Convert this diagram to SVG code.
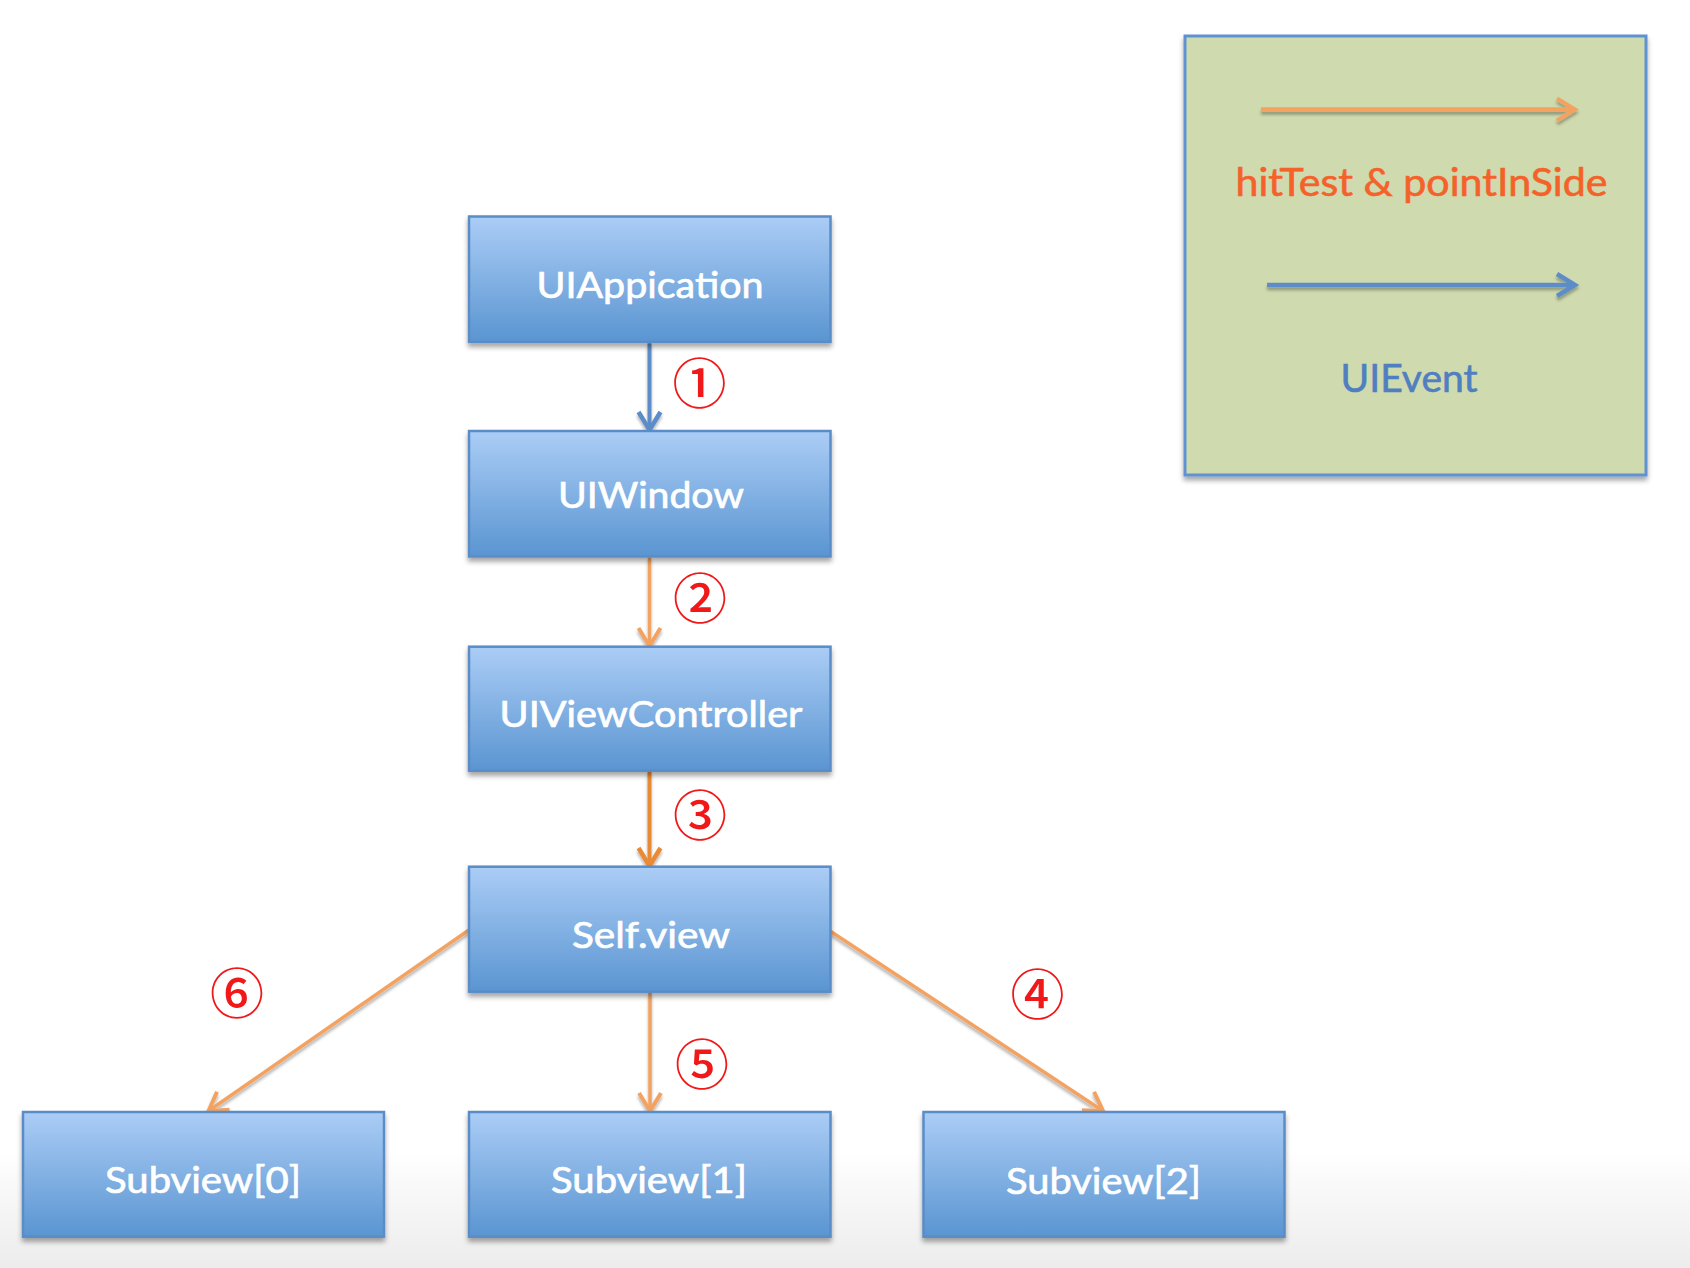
<svg xmlns="http://www.w3.org/2000/svg" width="1690" height="1268" viewBox="0 0 1690 1268">
  <defs>
    <linearGradient id="boxFill" x1="0" y1="0" x2="0" y2="1">
      <stop offset="0" stop-color="#abcdf6"/>
      <stop offset="1" stop-color="#5a95d1"/>
    </linearGradient>
    <linearGradient id="floor" x1="0" y1="0" x2="0" y2="1">
      <stop offset="0" stop-color="#ffffff"/>
      <stop offset="1" stop-color="#ececec"/>
    </linearGradient>
    <filter id="shadow" x="-10%" y="-10%" width="120%" height="130%">
      <feDropShadow dx="0" dy="4" stdDeviation="2.5" flood-color="#000" flood-opacity="0.35"/>
    </filter>
    <filter id="lineShadow" filterUnits="userSpaceOnUse" x="0" y="0" width="1690" height="1268">
      <feDropShadow dx="0" dy="3" stdDeviation="1.5" flood-color="#000" flood-opacity="0.3"/>
    </filter>
    <marker id="headOrange" markerUnits="userSpaceOnUse" markerWidth="40" markerHeight="40" viewBox="-30 -20 40 40" refX="0" refY="0" orient="auto" overflow="visible">
      <path d="M-18,-11 L0,0 L-18,11" fill="none" stroke="#f3a261" stroke-width="4" stroke-linejoin="miter"/>
    </marker>
    <marker id="headOrangeDark" markerUnits="userSpaceOnUse" markerWidth="40" markerHeight="40" viewBox="-30 -20 40 40" refX="0" refY="0" orient="auto" overflow="visible">
      <path d="M-18,-11 L0,0 L-18,11" fill="none" stroke="#e98a35" stroke-width="4.5" stroke-linejoin="miter"/>
    </marker>
    <marker id="headBlue" markerUnits="userSpaceOnUse" markerWidth="40" markerHeight="40" viewBox="-30 -20 40 40" refX="0" refY="0" orient="auto" overflow="visible">
      <path d="M-18,-11 L0,0 L-18,11" fill="none" stroke="#5b8dc8" stroke-width="4.5" stroke-linejoin="miter"/>
    </marker>
  </defs>
  <style>
    .box { fill: url(#boxFill); stroke: #5a8cc8; stroke-width: 2.5; filter: url(#shadow); }
    .label { font-family: Lato, "Liberation Sans", sans-serif; font-size: 37px; fill: #ffffff; stroke: #ffffff; stroke-width: 0.7; text-anchor: middle; }
    .num { font-family: "Noto Sans CJK JP", "DejaVu Sans", sans-serif; font-size: 54px; font-weight: 500; fill: #f01818; text-anchor: middle; }
    .conn { fill: none; stroke-linecap: butt; filter: url(#lineShadow); }
    .orange { stroke: #f3a261; stroke-width: 3.5; marker-end: url(#headOrange); }
    .orangeDark { stroke: #e98a35; stroke-width: 4; marker-end: url(#headOrangeDark); }
    .blue { stroke: #5b8dc8; stroke-width: 4; marker-end: url(#headBlue); }
    .legendText { font-family: Lato, "Liberation Sans", sans-serif; font-size: 38px; stroke-width: 0.6; text-anchor: middle; }
  </style>

  <rect x="0" y="0" width="1690" height="1268" fill="#ffffff"/>
  <rect x="0" y="1150" width="1690" height="118" fill="url(#floor)"/>

  <g id="connectors">
    <line class="conn blue" x1="649.5" y1="342" x2="649.5" y2="430"/>
    <line class="conn orange" x1="649.5" y1="557" x2="649.5" y2="646"/>
    <line class="conn orangeDark" x1="649.5" y1="771" x2="649.5" y2="866"/>
    <line class="conn orange" x1="830" y1="931" x2="1103" y2="1111"/>
    <line class="conn orange" x1="650" y1="992" x2="650" y2="1111"/>
    <line class="conn orange" x1="469" y1="930" x2="208.5" y2="1111"/>
  </g>

  <g id="labels">
    <text class="num" x="699.5" y="404">①</text>
    <text class="num" x="700" y="619">②</text>
    <text class="num" x="700" y="836">③</text>
    <text class="num" x="1037.5" y="1015">④</text>
    <text class="num" x="702" y="1085">⑤</text>
    <text class="num" x="237" y="1014">⑥</text>
  </g>

  <g id="node-uiapplication">
    <rect class="box" x="469" y="216.5" width="361.5" height="125.5"/>
    <text class="label" x="650" y="298" textLength="227" lengthAdjust="spacingAndGlyphs">UIAppication</text>
  </g>
  <g id="node-uiwindow">
    <rect class="box" x="469" y="431" width="361.5" height="125.5"/>
    <text class="label" x="651" y="508" textLength="186" lengthAdjust="spacingAndGlyphs">UIWindow</text>
  </g>
  <g id="node-uiviewcontroller">
    <rect class="box" x="469" y="646.7" width="361.5" height="124"/>
    <text class="label" x="651" y="727" textLength="303" lengthAdjust="spacingAndGlyphs">UIViewController</text>
  </g>
  <g id="node-selfview">
    <rect class="box" x="469" y="866.7" width="361.5" height="125"/>
    <text class="label" x="651" y="948" textLength="158" lengthAdjust="spacingAndGlyphs">Self.view</text>
  </g>
  <g id="node-subview0">
    <rect class="box" x="23" y="1112" width="361" height="124.7"/>
    <text class="label" x="203" y="1193" textLength="196" lengthAdjust="spacingAndGlyphs">Subview[0]</text>
  </g>
  <g id="node-subview1">
    <rect class="box" x="469" y="1112" width="361.5" height="124.7"/>
    <text class="label" x="649" y="1193" textLength="196" lengthAdjust="spacingAndGlyphs">Subview[1]</text>
  </g>
  <g id="node-subview2">
    <rect class="box" x="923.5" y="1112" width="361" height="124.7"/>
    <text class="label" x="1103.5" y="1194" textLength="195" lengthAdjust="spacingAndGlyphs">Subview[2]</text>
  </g>

  <g id="legend">
    <rect x="1185" y="36" width="461" height="439" fill="#cfdaae" stroke="#5f92d2" stroke-width="3" filter="url(#shadow)"/>
    <line class="conn orange" x1="1261" y1="109.5" x2="1575" y2="109.5" style="stroke-width:4.5"/>
    <text class="legendText" x="1421.5" y="196" fill="#f4622a" stroke="#f4622a" textLength="372" lengthAdjust="spacingAndGlyphs">hitTest &amp; pointInSide</text>
    <line class="conn blue" x1="1267" y1="285" x2="1575" y2="285" style="stroke-width:4.5"/>
    <text class="legendText" x="1409" y="392" fill="#4f7fc0" stroke="#4f7fc0" textLength="137" lengthAdjust="spacingAndGlyphs">UIEvent</text>
  </g>
</svg>
